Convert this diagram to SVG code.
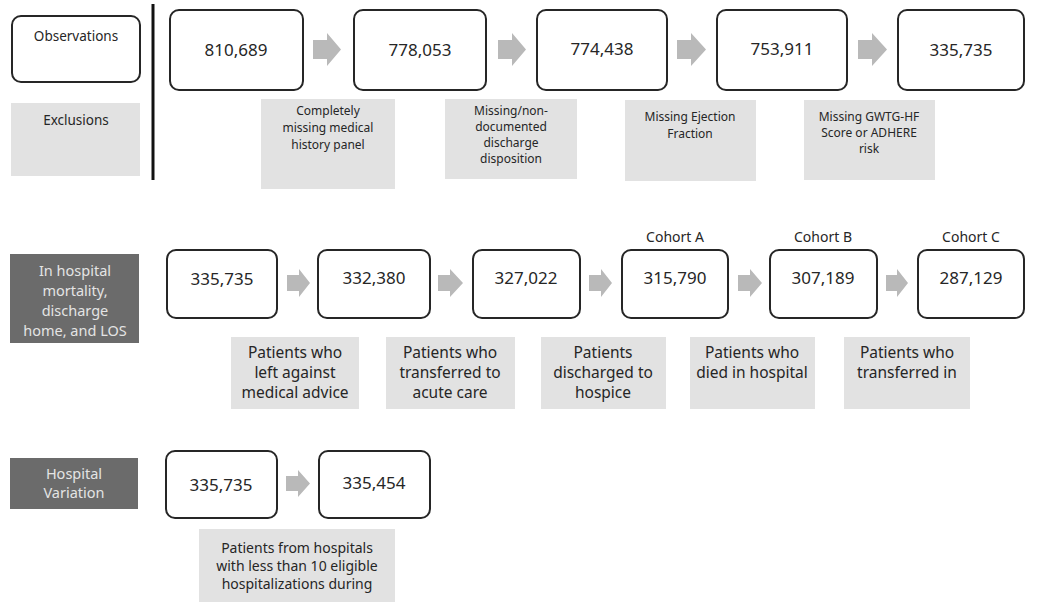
<svg xmlns="http://www.w3.org/2000/svg" width="1037" height="602" viewBox="0 0 1037 602">
<style>
.bg{fill:#ffffff}
.box rect{fill:#ffffff;stroke:#262626;stroke-width:2}
.ex rect{fill:#e2e2e2}
.dk rect{fill:#6b6b6b}
text{font-family:"Noto Sans","Open Sans",sans-serif;text-anchor:middle;fill:#262626}
.num{font-size:17px}
.s{font-size:12px}
.m{font-size:15.5px}
.b{font-size:14px}
.lbl{font-size:13.5px}
.dk text{fill:#e4e4e4;font-size:14.5px}
.arr path{fill:#b9b9b9}
</style>
<rect class="bg" x="0" y="0" width="1037" height="602"/>
<g id="legend">
<g id="observations" class="box"><rect x="12" y="16" width="128" height="66" rx="9"/><text class="lbl" x="76" y="41">Observations</text></g>
<g id="exclusions" class="ex"><rect x="11" y="103" width="129" height="73"/><text class="lbl" x="76" y="125">Exclusions</text></g>
<line x1="153" y1="4" x2="153" y2="180" stroke="#111" stroke-width="3"/>
</g>
<g id="n810689" class="box"><rect x="170" y="10" width="133" height="80" rx="9"/><text class="num" x="236" y="56">810,689</text></g>
<g id="n778053" class="box"><rect x="354" y="10" width="132" height="80" rx="9"/><text class="num" x="420" y="56">778,053</text></g>
<g id="n774438" class="box"><rect x="537" y="10" width="130" height="80" rx="9"/><text class="num" x="602" y="55">774,438</text></g>
<g id="n753911" class="box"><rect x="717" y="10" width="130" height="80" rx="9"/><text class="num" x="782" y="55">753,911</text></g>
<g id="n335735a" class="box"><rect x="898" y="10" width="126" height="80" rx="9"/><text class="num" x="961" y="56">335,735</text></g>
<g id="ex1" class="ex"><rect x="261" y="99" width="134" height="90"/><text class="s"><tspan x="328" y="115">Completely</tspan><tspan x="328" y="132">missing medical</tspan><tspan x="328" y="149">history panel</tspan></text></g>
<g id="ex2" class="ex"><rect x="445" y="99" width="132" height="80"/><text class="s"><tspan x="511" y="115">Missing/non-</tspan><tspan x="511" y="131">documented</tspan><tspan x="511" y="147">discharge</tspan><tspan x="511" y="163">disposition</tspan></text></g>
<g id="ex3" class="ex"><rect x="625" y="100" width="131" height="81"/><text class="s"><tspan x="690" y="121">Missing Ejection</tspan><tspan x="690" y="138">Fraction</tspan></text></g>
<g id="ex4" class="ex"><rect x="804" y="100" width="131" height="80"/><text class="s"><tspan x="869" y="121">Missing GWTG-HF</tspan><tspan x="869" y="137">Score or ADHERE</tspan><tspan x="869" y="153">risk</tspan></text></g>

<g id="grp2" class="dk"><rect x="10" y="254" width="129" height="89"/><text><tspan x="75" y="276">In hospital</tspan><tspan x="75" y="296">mortality,</tspan><tspan x="75" y="316">discharge</tspan><tspan x="75" y="336">home, and LOS</tspan></text></g>
<g id="m335735" class="box"><rect x="167" y="250" width="110" height="68" rx="9"/><text class="num" x="222" y="285">335,735</text></g>
<g id="m332380" class="box"><rect x="318" y="250" width="112" height="68" rx="9"/><text class="num" x="374" y="284">332,380</text></g>
<g id="m327022" class="box"><rect x="473" y="250" width="107" height="68" rx="9"/><text class="num" x="526" y="284">327,022</text></g>
<g id="m315790" class="box"><rect x="622" y="250" width="106" height="68" rx="9"/><text class="num" x="675" y="284">315,790</text><text class="b" x="675" y="242">Cohort A</text></g>
<g id="m307189" class="box"><rect x="770" y="250" width="107" height="68" rx="9"/><text class="num" x="823" y="284">307,189</text><text class="b" x="823" y="242">Cohort B</text></g>
<g id="m287129" class="box"><rect x="918" y="250" width="106" height="68" rx="9"/><text class="num" x="971" y="284">287,129</text><text class="b" x="971" y="242">Cohort C</text></g>
<g id="mx1" class="ex"><rect x="231" y="337" width="128" height="72"/><text class="m"><tspan x="295" y="358">Patients who</tspan><tspan x="295" y="378">left against</tspan><tspan x="295" y="398">medical advice</tspan></text></g>
<g id="mx2" class="ex"><rect x="386" y="337" width="129" height="72"/><text class="m"><tspan x="450" y="358">Patients who</tspan><tspan x="450" y="378">transferred to</tspan><tspan x="450" y="398">acute care</tspan></text></g>
<g id="mx3" class="ex"><rect x="541" y="337" width="125" height="72"/><text class="m"><tspan x="603" y="358">Patients</tspan><tspan x="603" y="378">discharged to</tspan><tspan x="603" y="398">hospice</tspan></text></g>
<g id="mx4" class="ex"><rect x="690" y="337" width="125" height="72"/><text class="m"><tspan x="752" y="358">Patients who</tspan><tspan x="752" y="378">died in hospital</tspan></text></g>
<g id="mx5" class="ex"><rect x="844" y="337" width="126" height="72"/><text class="m"><tspan x="907" y="358">Patients who</tspan><tspan x="907" y="378">transferred in</tspan></text></g>

<g id="grp3" class="dk"><rect x="10" y="458" width="128" height="51"/><text><tspan x="74" y="479">Hospital</tspan><tspan x="74" y="498">Variation</tspan></text></g>
<g id="b335735" class="box"><rect x="166" y="451" width="111" height="67" rx="9"/><text class="num" x="221" y="491">335,735</text></g>
<g id="b335454" class="box"><rect x="319" y="451" width="111" height="67" rx="9"/><text class="num" x="374" y="489">335,454</text></g>
<g id="bx1" class="ex"><rect x="199" y="529" width="196" height="73"/><text class="b"><tspan x="297" y="553">Patients from hospitals</tspan><tspan x="297" y="571">with less than 10 eligible</tspan><tspan x="297" y="589">hospitalizations during</tspan></text></g>

<g id="connectors" class="arr">
<path d="M313,40 H327 V33 L341,49.5 L327,66 V59 H313 Z"/>
<path d="M498,40 H512 V33 L526,49.5 L512,66 V59 H498 Z"/>
<path d="M677,40 H691 V33 L706,49.5 L691,66 V59 H677 Z"/>
<path d="M858,40 H872 V33 L887,49.5 L872,66 V59 H858 Z"/>
<path d="M287,275 H299 V269 L310,283 L299,297 V291 H287 Z"/>
<path d="M438,275 H450 V269 L463,283 L450,297 V291 H438 Z"/>
<path d="M589,275 H601 V269 L612,283 L601,297 V291 H589 Z"/>
<path d="M738,275 H750 V269 L762,283 L750,297 V291 H738 Z"/>
<path d="M886,275 H897 V269 L908,283 L897,297 V291 H886 Z"/>
<path d="M286,476 H298 V470 L310,483.5 L298,497 V491 H286 Z"/>
</g>
</svg>
